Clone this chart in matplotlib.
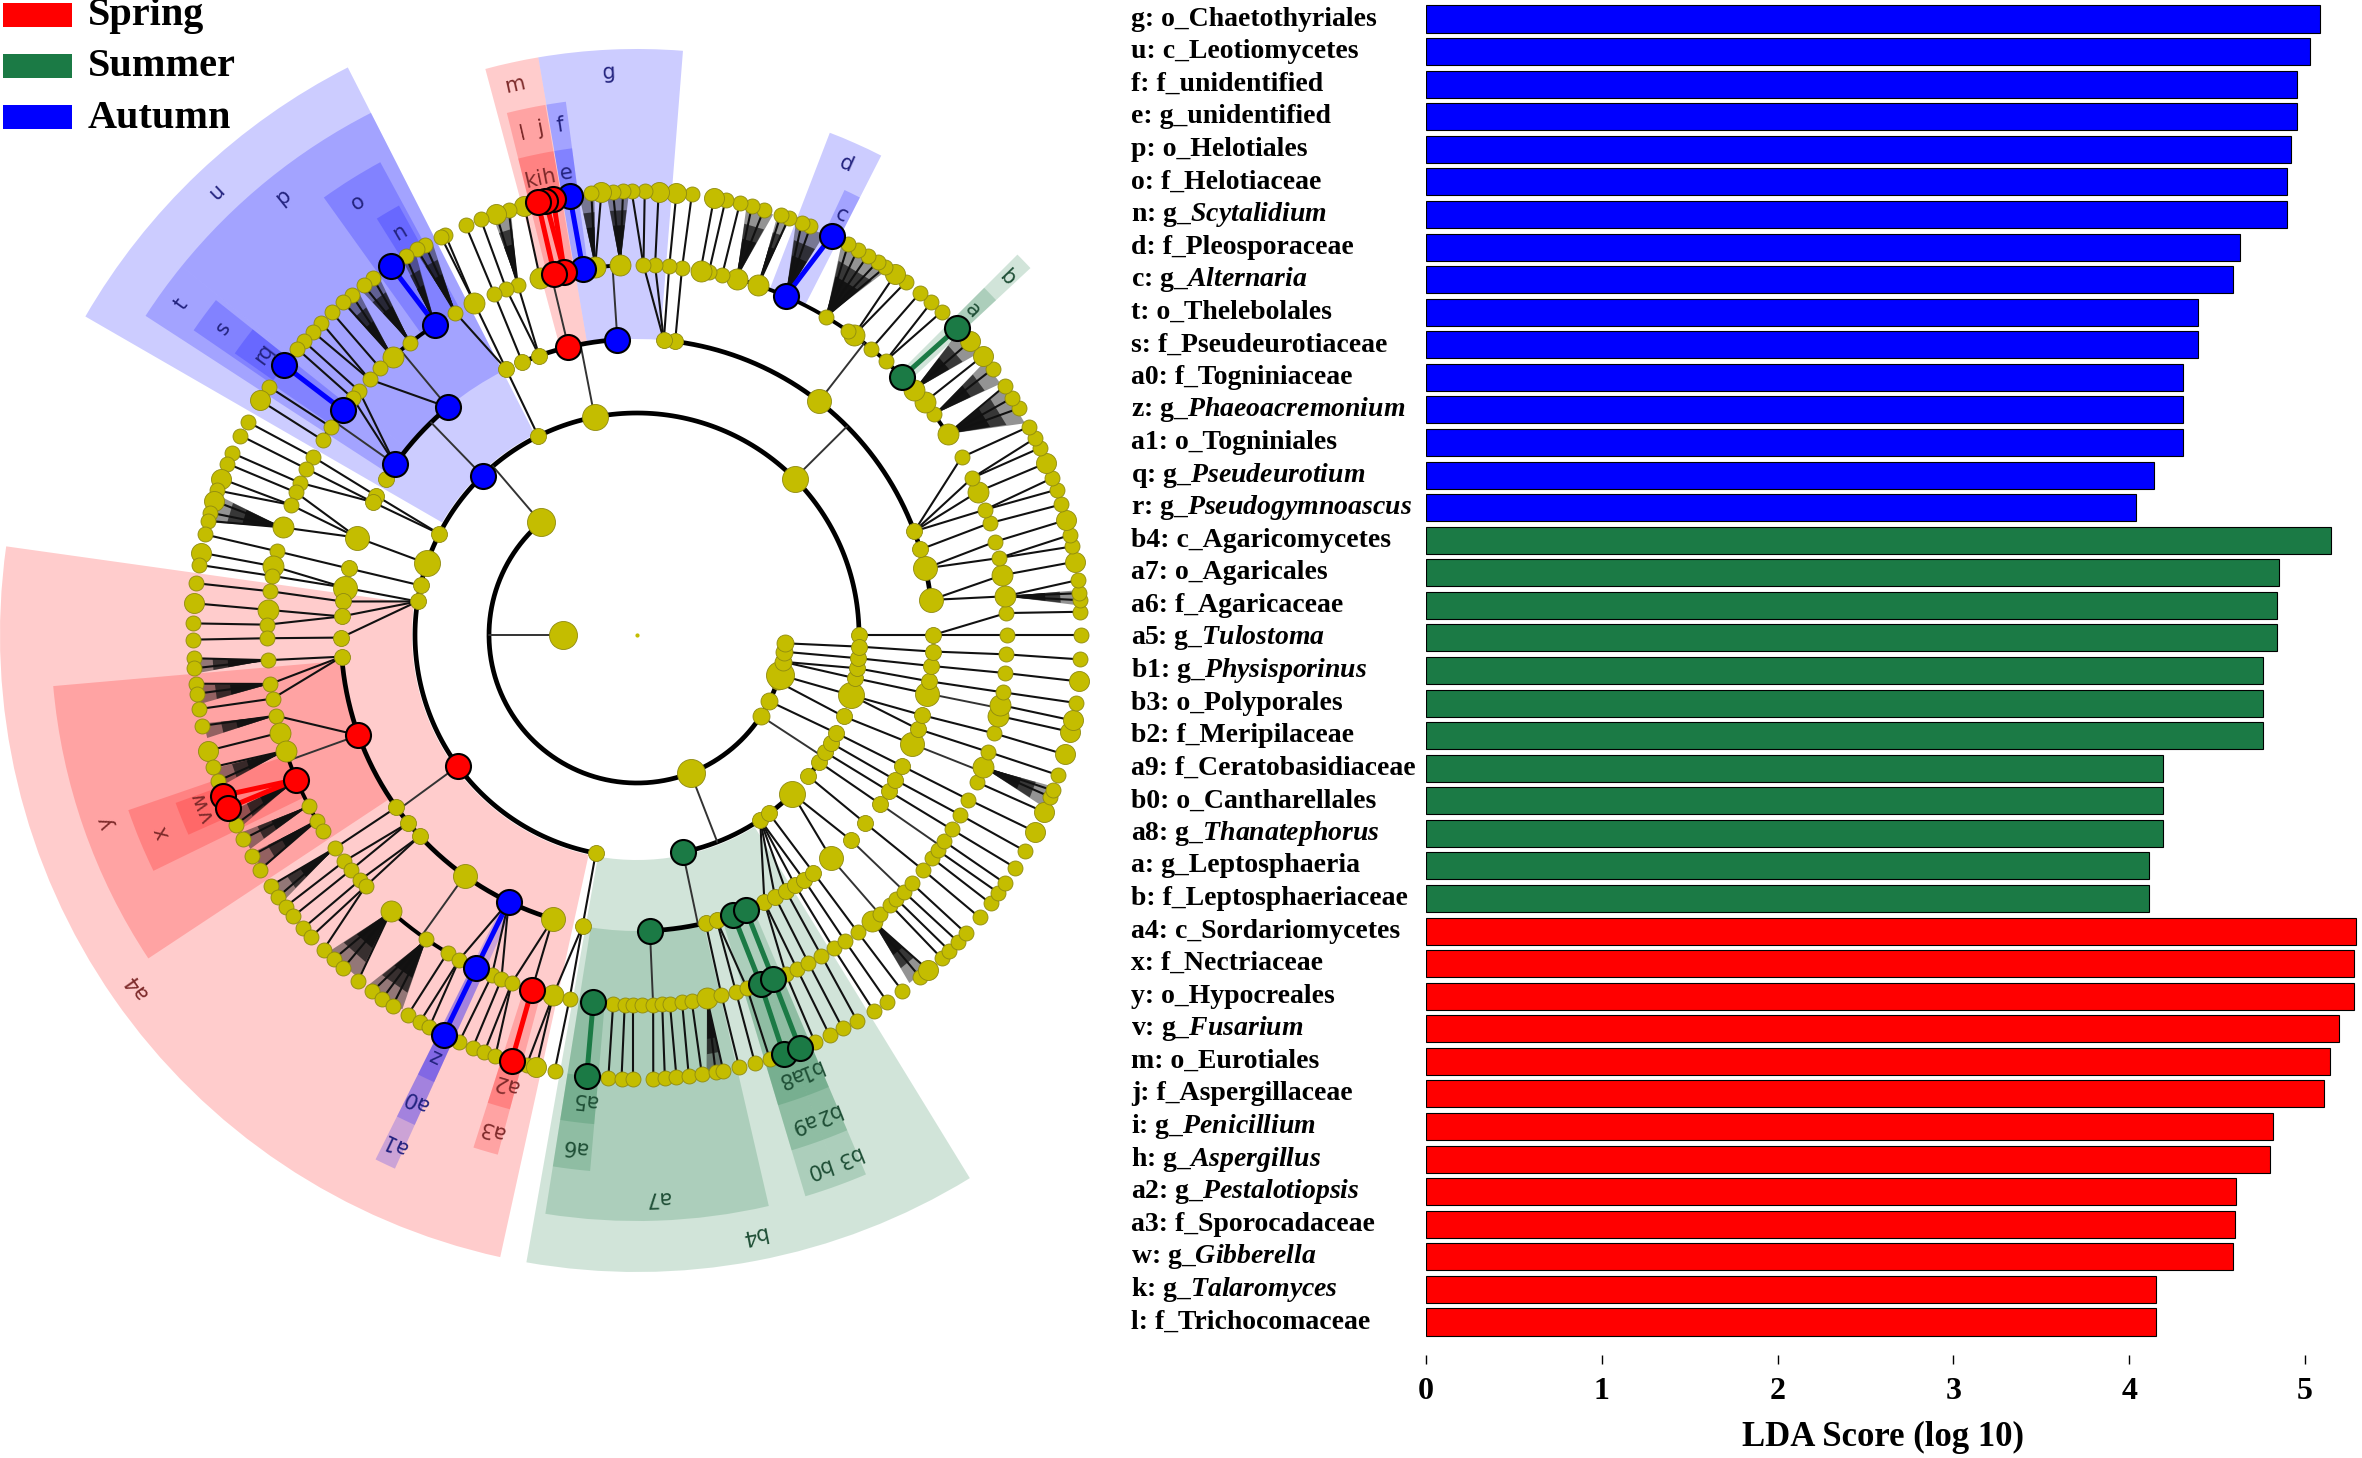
import numpy as np
import matplotlib
matplotlib.use('Agg')
import matplotlib.pyplot as plt
from matplotlib.patches import Wedge, Polygon, Rectangle

plt.rcParams['font.family'] = 'Liberation Serif'
plt.rcParams['font.weight'] = 'bold'
plt.rcParams['mathtext.fontset'] = 'custom'
plt.rcParams['mathtext.rm'] = 'Liberation Serif:bold'
plt.rcParams['mathtext.it'] = 'Liberation Serif:italic:bold'

# LDA bars, top to bottom
bar_labels = ['g: o_Chaetothyriales', 'u: c_Leotiomycetes', 'f: f_unidentified', 'e: g_unidentified',
              'p: o_Helotiales', 'o: f_Helotiaceae', 'n: g_$\\mathit{Scytalidium}$', 'd: f_Pleosporaceae',
              'c: g_$\\mathit{Alternaria}$', 't: o_Thelebolales', 's: f_Pseudeurotiaceae', 'a0: f_Togniniaceae',
              'z: g_$\\mathit{Phaeoacremonium}$', 'a1: o_Togniniales', 'q: g_$\\mathit{Pseudeurotium}$',
              'r: g_$\\mathit{Pseudogymnoascus}$',
              'b4: c_Agaricomycetes', 'a7: o_Agaricales', 'a6: f_Agaricaceae', 'a5: g_$\\mathit{Tulostoma}$',
              'b1: g_$\\mathit{Physisporinus}$', 'b3: o_Polyporales', 'b2: f_Meripilaceae', 'a9: f_Ceratobasidiaceae',
              'b0: o_Cantharellales', 'a8: g_$\\mathit{Thanatephorus}$', 'a: g_Leptosphaeria', 'b: f_Leptosphaeriaceae',
              'a4: c_Sordariomycetes', 'x: f_Nectriaceae', 'y: o_Hypocreales', 'v: g_$\\mathit{Fusarium}$',
              'm: o_Eurotiales', 'j: f_Aspergillaceae', 'i: g_$\\mathit{Penicillium}$', 'h: g_$\\mathit{Aspergillus}$',
              'a2: g_$\\mathit{Pestalotiopsis}$', 'a3: f_Sporocadaceae', 'w: g_$\\mathit{Gibberella}$',
              'k: g_$\\mathit{Talaromyces}$', 'l: f_Trichocomaceae']
bar_values = [5.085, 5.03, 4.956, 4.956, 4.92, 4.895, 4.895, 4.63, 4.59, 4.39, 4.39, 4.305, 4.305, 4.305, 4.14, 4.04,
              5.15, 4.85, 4.84, 4.84, 4.76, 4.76, 4.76, 4.19, 4.19, 4.19, 4.11, 4.11,
              5.29, 5.28, 5.28, 5.195, 5.145, 5.11, 4.82, 4.80, 4.605, 4.60, 4.59, 4.155, 4.155]
bar_groups = ['Autumn'] * 16 + ['Summer'] * 12 + ['Spring'] * 13
season_names = ['Spring', 'Summer', 'Autumn']
season_colors = {'Spring': '#ff0000', 'Summer': '#1b7a45', 'Autumn': '#0000ff'}

# cladogram node angles in degrees, ccw from east, per taxonomic level
l2_angles = [130.5, 291.2, 326.8, 333.4, 341.7, 344.4, 349.6, 353.5, 356.8]
l2_big = [130.5, 291.2, 344.4]
l3_angles = [0, 44.8, 101, 116.4, 134.1, 152.9, 161.2, 167.1, 171.3, 216.2, 259.3, 281.9, 303.7, 306.5, 314.4,
             320.5, 325.1, 328.1, 330.9, 333.8, 338.5, 344.3, 348.8, 351.4, 354, 357]
l3_big = [44.8, 101, 161.2, 314.4, 344.3]
l4_angles = [0, 6.8, 13, 16.8, 20.5, 52.1, 82.6, 84.8, 93.8, 103.4, 109.3, 112.8, 116.2, 129.7, 144.8, 148.1, 151.9,
             153.3, 160.8, 167, 170.8, 173.5, 176.4, 180.5, 184.2, 199.8, 215.6, 219.4, 222.8, 234.4, 244.3, 253.5,
             259.4, 272.5, 283.4, 285.6, 289, 291.6, 295.5, 297.8, 300.2, 302.3, 304.3, 306.6, 311, 316.2, 320.5,
             325.2, 328.2, 330.7, 333.7, 338.4, 341.5, 344.3, 348.6, 351, 354, 356.8]
l4_big = [6.8, 13, 52.1, 160.8, 170.8, 234.4, 253.5, 311, 338.4, 348.6]
l5_angles = [0, 3.4, 6, 9.3, 12, 14.6, 17.6, 19.8, 22.8, 25.1, 28.7, 32.9, 36.6, 39, 41.5, 44.2, 47.8, 50.7, 54.1,
             55.2, 59.3, 66.3, 70.9, 74.4, 76.7, 78.8, 80.1, 83, 85, 87.2, 89, 92.6, 96.5, 98.4, 101.3, 102.9, 105.2,
             108.8, 110.7, 112.7, 116.1, 119.4, 123, 127.8, 131.3, 133.9, 136.3, 138.7, 140.2, 142.6, 145.8, 148.2,
             151.2, 153.3, 155.7, 157.3, 159.4, 163.1, 166.9, 169.3, 170.8, 173.2, 176.1, 178.4, 180.5, 183.9, 187.6,
             189.9, 192.6, 195.3, 198.2, 203, 207.5, 210.1, 212, 215.2, 217.7, 219.4, 221.5, 222.8, 228.3, 235.3,
             239.2, 241.3, 244.2, 246.9, 248.5, 250.2, 253.5, 256.9, 259.5, 263.2, 266.3, 268.1, 269.4, 270.7, 272.5,
             273.9, 275.1, 277, 278.5, 280.9, 283.2, 285.5, 287.3, 289.5, 291.6, 293.7, 295.6, 297.6, 299.9, 302.1,
             304.2, 306.6, 309.5, 311.1, 313.2, 314.5, 316.1, 317.9, 320.6, 322.9, 324.4, 326.1, 328.3, 330.9, 333.6,
             336.6, 339.1, 341.6, 344.6, 347.4, 349.1, 351.1, 354.1, 357]
l5_big = [6, 9.3, 22.8, 32.9, 39, 41.5, 54.1, 70.9, 74.4, 80.1, 92.6, 96.5, 105.2, 116.1, 131.3, 163.1, 169.3, 176.1,
          195.3, 198.2, 228.3, 256.9, 280.9, 309.5, 339.1, 349.1, 347.4]
l6_angles = [0, 3.0, 4.5, 5.4, 7.1, 9.5, 11.5, 13, 15, 17.1, 19.1, 20.7, 22.8, 24.9, 26.3, 28, 30.7, 32.3, 34.1, 36.8,
             38.9, 41.4, 43.8, 46.7, 48.5, 50.4, 52.7, 54.4, 56, 57.2, 58.7, 60.2, 61.6, 64, 67, 68.2, 70, 71.1, 73.4,
             75, 76.6, 78.5, 80, 82.9, 84.9, 87.2, 89, 90.7, 91.8, 93.1, 94.6, 95.9, 98.7, 100.9, 101.9, 102.9, 104.7,
             106.8, 108.5, 110.6, 112.7, 115.6, 116.2, 118.5, 119.7, 121.4, 123.7, 126.5, 128, 130, 131.4, 133.4,
             135.3, 136.9, 138.6, 139.9, 142.6, 146, 148.1, 151.3, 153.3, 155.8, 157.3, 159.4, 161, 162.4, 164, 165.1,
             166.9, 169.3, 170.9, 173.3, 175.9, 178.5, 180.6, 183, 184.3, 186.3, 187.6, 189.6, 191.8, 195.1, 197.3,
             199.2, 201.2, 202.9, 205.3, 207.4, 209.8, 211.9, 214.4, 216.1, 217.7, 219.3, 221.3, 222.8, 225.1, 226.9,
             228.6, 231.1, 233.4, 235, 236.6, 238.9, 240.7, 242.1, 244.2, 246.4, 248.3, 249.9, 251.4, 253.6, 255.6,
             256.9, 259.3, 263.5, 266.3, 268, 269.5, 272.1, 273.6, 275.1, 276.7, 278.4, 280.2, 281.2, 283.3, 285.4,
             287.4, 289.3, 291.5, 293.6, 295.7, 297.6, 299.7, 302.2, 304.3, 306.7, 309.6, 311, 313.3, 314.7, 316.3,
             317.8, 320.5, 322.8, 324.5, 326, 328.4, 330.9, 333.7, 336.5, 338.6, 339.5, 341.6, 344.4, 347.4, 348.9,
             351.2, 354, 356.85]
l6_big = [9.5, 15, 22.8, 38.9, 41.4, 54.4, 80, 84.9, 87.2, 94.6, 104.7, 108.5, 148.1, 159.4, 162.4, 169.3, 175.9,
          195.1, 256.9, 311, 333.7, 336.5, 344.4, 347.4, 348.9, 354]

# brackets: parent angle, first and last child angle on the child level
l2_brackets = [(180, 130.5, 356.8)]
l3_brackets = [(130.5, 0, 259.3), (291.2, 281.9, 314.4), (326.8, 320.5, 330.9)]
l4_brackets = [(101, 93.8, 112.8), (134.1, 129.7, 148.1), (44.8, 6.8, 84.8), (216.2, 184.2, 253.5), (281.9, 272.5, 291.6)]
l5_brackets = [(93.8, 92.6, 98.4), (103.4, 101.3, 105.2), (129.7, 123, 133.9), (144.8, 142.6, 148.2), (52.1, 32.9, 80.1),
               (199.8, 195.3, 212), (234.4, 228.3, 239.2), (272.5, 263.2, 280.9), (316.2, 313.2, 317.9),
               (325.2, 322.9, 326.1), (338.4, 336.6, 339.1), (348.6, 347.4, 349.1), (311, 309.5, 311.1)]
# dense genus fans: family angle, angular range of the fan
dense_fans = [(59.3, 55.5, 62.5), (66.3, 64.9, 69), (70.9, 69.8, 71.5), (74.4, 72, 75.7), (32.9, 28.5, 34),
              (36.6, 34.6, 38.2), (41.5, 39.5, 43.4), (339.1, 337, 340), (309.5, 308, 311), (280.9, 279, 281.2),
              (6, 3.8, 5.8), (92.6, 91, 94), (96.5, 95.5, 97.5), (127.8, 125.7, 128.7), (131.3, 129, 131.6),
              (119.4, 117.5, 120), (123, 120, 122), (108.8, 106.5, 109), (163.1, 161.5, 165.3), (183.9, 183, 185),
              (187.6, 186.4, 189), (192.6, 191.5, 193.5), (198.2, 197.5, 200), (203, 203.5, 206), (207.5, 206.5, 209),
              (210.1, 209.5, 212), (215.2, 214.5, 217), (228.3, 225.7, 231), (235.3, 232.4, 238)]

# biomarkers: (level, angle, season)
biomarkers = [(3, 134.1, 'Autumn'), (3, 216.2, 'Spring'), (3, 281.9, 'Summer'),
              (4, 93.8, 'Autumn'), (4, 103.4, 'Spring'), (4, 129.7, 'Autumn'), (4, 144.8, 'Autumn'), (4, 199.8, 'Spring'),
              (4, 244.3, 'Autumn'), (4, 272.5, 'Summer'), (4, 289, 'Summer'), (4, 291.6, 'Summer'),
              (5, 44.2, 'Summer'), (5, 66.3, 'Autumn'), (5, 98.4, 'Autumn'), (5, 101.3, 'Spring'), (5, 102.9, 'Spring'),
              (5, 123, 'Autumn'), (5, 142.6, 'Autumn'), (5, 203, 'Spring'), (5, 244.2, 'Autumn'), (5, 253.5, 'Spring'),
              (5, 263.2, 'Summer'), (5, 289.5, 'Summer'), (5, 291.6, 'Summer'),
              (6, 43.8, 'Summer'), (6, 64, 'Autumn'), (6, 98.7, 'Autumn'), (6, 100.9, 'Spring'), (6, 101.9, 'Spring'),
              (6, 102.9, 'Spring'), (6, 123.7, 'Autumn'), (6, 142.6, 'Autumn'), (6, 201.2, 'Spring'), (6, 202.9, 'Spring'),
              (6, 244.2, 'Autumn'), (6, 253.6, 'Spring'), (6, 263.5, 'Summer'), (6, 289.3, 'Summer'), (6, 291.5, 'Summer')]

# shaded sectors: (rank, first angle, last angle, season)
sectors = [('class', 117, 150, 'Autumn'), ('order', 117, 141, 'Autumn'), ('order', 141, 147, 'Autumn'),
           ('family', 118.5, 125.6, 'Autumn'), ('genus', 119, 122, 'Autumn'), ('family', 141.5, 145.5, 'Autumn'),
           ('genus', 141.5, 145, 'Autumn'), ('order', 85.5, 99.7, 'Autumn'), ('order', 99.7, 105, 'Spring'),
           ('family', 97.6, 99.7, 'Autumn'), ('genus', 97.6, 99.7, 'Autumn'), ('family', 99.8, 104, 'Spring'),
           ('genus', 99.8, 104, 'Spring'), ('family', 63, 69, 'Autumn'), ('genus', 63, 65, 'Autumn'),
           ('family', 43, 45, 'Summer'), ('genus', 43, 45, 'Summer'),
           ('class', 172, 257.6, 'Spring'), ('order', 185, 213.5, 'Spring'), ('family', 199, 206, 'Spring'),
           ('genus', 200, 204, 'Spring'), ('order', 243.5, 245.6, 'Autumn'), ('family', 243.5, 245.6, 'Autumn'),
           ('genus', 243.5, 245.6, 'Autumn'), ('family', 252.3, 255, 'Spring'), ('genus', 252.3, 255, 'Spring'),
           ('class', 260, 301.5, 'Summer'), ('order', 261, 283, 'Summer'), ('family', 261, 265, 'Summer'),
           ('genus', 261, 265, 'Summer'), ('order', 286.7, 290.3, 'Summer'), ('family', 286.7, 290.3, 'Summer'),
           ('genus', 286.7, 290.3, 'Summer'), ('order', 290.3, 293, 'Summer'), ('family', 290.3, 293, 'Summer'),
           ('genus', 290.3, 293, 'Summer')]

# sector letters: (text, rank, angle, season)
sector_labels = [('u', 'class', 133.5, 'Autumn'), ('p', 'order', 129, 'Autumn'), ('t', 'order', 144, 'Autumn'),
                 ('o', 'family', 122.8, 'Autumn'), ('s', 'family', 143.4, 'Autumn'), ('n', 'genus', 120.5, 'Autumn'),
                 ('q', 'genus', 142.6, 'Autumn'), ('r', 'genus', 143.7, 'Autumn'), ('g', 'order', 92.8, 'Autumn'),
                 ('m', 'order', 102.5, 'Spring'), ('l', 'family', 102.9, 'Spring'), ('j', 'family', 100.8, 'Spring'),
                 ('f', 'family', 98.6, 'Autumn'), ('k', 'genus', 103.2, 'Spring'), ('i', 'genus', 102, 'Spring'),
                 ('h', 'genus', 100.9, 'Spring'), ('e', 'genus', 98.7, 'Autumn'), ('d', 'family', 66, 'Autumn'),
                 ('c', 'genus', 64, 'Autumn'), ('b', 'family', 44, 'Summer'), ('a', 'genus', 44, 'Summer'),
                 ('a4', 'class', 215, 'Spring'), ('y', 'order', 199.4, 'Spring'), ('x', 'family', 202.5, 'Spring'),
                 ('w', 'genus', 200.8, 'Spring'), ('v', 'genus', 202.7, 'Spring'), ('z', 'genus', 244.5, 'Autumn'),
                 ('a0', 'family', 244.5, 'Autumn'), ('a1', 'order', 244.5, 'Autumn'), ('a2', 'genus', 253.6, 'Spring'),
                 ('a3', 'family', 253.6, 'Spring'), ('b4', 'class', 281, 'Summer'), ('a7', 'order', 272, 'Summer'),
                 ('a6', 'family', 263, 'Summer'), ('a5', 'genus', 263.5, 'Summer'), ('b3', 'order', 292, 'Summer'),
                 ('b0', 'order', 288.7, 'Summer'), ('a9', 'family', 288.7, 'Summer'), ('b2', 'family', 291.6, 'Summer'),
                 ('a8', 'genus', 289, 'Summer'), ('b1', 'genus', 291.6, 'Summer')]

W, H = 2362, 1458
CX, CY = 637, 635
PX2PT = 72 / 100
LEVEL_R = {1: 74, 2: 148, 3: 222, 4: 296, 5: 370, 6: 444}
RANK_R = {'class': (225, 637), 'order': (296, 586), 'family': (370, 538), 'genus': (444, 491)}
LABEL_R = {'class': 611, 'order': 563, 'family': 515, 'genus': 467}
TEXT_COLORS = {'Spring': '#7d2a2a', 'Summer': '#1f4f36', 'Autumn': '#23237f'}
YELLOW = '#c4bd00'
YELLOW_EDGE = '#8f8a10'


def polar(level_or_r, angle):
    r = LEVEL_R.get(level_or_r, level_or_r)
    a = np.deg2rad(angle)
    return r * np.cos(a), r * np.sin(a)


def in_range(a, lo, hi):
    return lo - 1e-6 <= a <= hi + 1e-6


def nearest(a, candidates):
    diffs = [abs((a - c + 180) % 360 - 180) for c in candidates]
    return candidates[int(np.argmin(diffs))]


def draw_link(ax, lev_p, ang_p, lev_c, ang_c, color='#111111', lw=1.5, z=2):
    x0, y0 = polar(lev_p, ang_p)
    x1, y1 = polar(lev_c, ang_c)
    ax.plot([x0, x1], [y0, y1], color=color, lw=lw, solid_capstyle='round', zorder=z)


def draw_level_links(ax, lev, child_angles, parent_angles, brackets):
    for parent, lo, hi in brackets:
        t = np.deg2rad(np.linspace(lo, hi, 200))
        r = LEVEL_R[lev]
        ax.plot(r * np.cos(t), r * np.sin(t), color='black', lw=3.4 if lev < 5 else 2.8, zorder=2)
        draw_link(ax, lev - 1, parent, lev, parent, color='#333333', lw=1.4)
    for a in child_angles:
        if any(in_range(a, lo, hi) for _, lo, hi in brackets):
            continue
        draw_link(ax, lev - 1, nearest(a, parent_angles), lev, a)


fig = plt.figure(figsize=(W / 100, H / 100), dpi=100)
fig.patch.set_facecolor('white')

# cladogram, data units are pixels around the centre of the circle
ax = fig.add_axes([0, 0, 1, 1])
ax.set_xlim(-CX, W - CX)
ax.set_ylim(-(H - CY), CY)
ax.set_aspect('equal')
ax.axis('off')

for rank, lo, hi, season in sectors:
    r0, r1 = RANK_R[rank]
    ax.add_patch(Wedge((0, 0), r1, lo, hi, width=r1 - r0, facecolor=season_colors[season], alpha=0.2, lw=0, zorder=1))

marks = {(lev, a): s for lev, a, s in biomarkers}

draw_level_links(ax, 2, l2_angles, [180], l2_brackets)
draw_level_links(ax, 3, l3_angles, l2_angles, l3_brackets)
draw_level_links(ax, 4, l4_angles, l3_angles, l4_brackets)
draw_level_links(ax, 5, l5_angles, l4_angles, l5_brackets)

# dense fans fade towards the genus ring
for parent, lo, hi in dense_fans:
    apex = polar(5, parent)
    for r, alpha in [(442, 0.45), (425, 0.7), (410, 0.95)]:
        f = (r - 370) / 74
        base = [polar(r, parent + (lo - parent) * f), polar(r, parent + (hi - parent) * f)]
        ax.add_patch(Polygon([apex] + base, closed=True, facecolor='#111111', edgecolor='none', alpha=alpha, zorder=2))

for a in l6_angles:
    season = marks.get((6, a))
    parent = nearest(a, l5_angles)
    if season is None:
        for p, lo, hi in dense_fans:
            if in_range(a, lo, hi):
                parent = p
                break
    if season is not None and marks.get((5, parent)) == season:
        draw_link(ax, 5, parent, 6, a, color=season_colors[season], lw=3.6, z=2.5)
    else:
        draw_link(ax, 5, parent, 6, a)

# coloured order to family links
for lev_p, a_p, a_c, season in [(4, 244.3, 244.2, 'Autumn'), (4, 289, 289.5, 'Summer'), (4, 291.6, 291.6, 'Summer')]:
    draw_link(ax, lev_p, a_p, lev_p + 1, a_c, color=season_colors[season], lw=3.6, z=2.5)


def draw_nodes(lev, angles, big, d_small, d_big):
    for a in angles:
        season = marks.get((lev, a))
        x, y = polar(lev, a)
        if season is None:
            d = d_big if a in big else d_small
            ax.scatter(x, y, s=(d * PX2PT) ** 2, color=YELLOW, edgecolors=YELLOW_EDGE, linewidths=0.6, zorder=3)
        else:
            ax.scatter(x, y, s=(25 * PX2PT) ** 2, color=season_colors[season], edgecolors='black', linewidths=1.5, zorder=4)


draw_nodes(1, [180], [180], 28, 28)
draw_nodes(2, l2_angles, l2_big, 17, 28)
draw_nodes(3, l3_angles, l3_big, 16, 26)
draw_nodes(4, l4_angles, l4_big, 16, 24)
draw_nodes(5, l5_angles, l5_big, 15, 21)
draw_nodes(6, l6_angles, l6_big, 15, 20)
ax.scatter(0, 0, s=4, color='#c4bd00', zorder=3)

for text, rank, a, season in sector_labels:
    x, y = polar(LABEL_R[rank], a)
    ax.text(x, y, text, rotation=a - 90, rotation_mode='anchor', ha='center', va='center', fontsize=15,
            family='DejaVu Sans', weight='normal', color=TEXT_COLORS[season], zorder=5)

# legend, placed in pixels
leg_y = [15, 66, 117]
for name, y in zip(season_names, leg_y):
    ax.add_patch(Rectangle((3 - CX, CY - y - 12), 69, 24, facecolor=season_colors[name], edgecolor='none', zorder=5))
    ax.text(88 - CX, CY - y - 1, name, fontsize=29, va='center', ha='left', color='black', zorder=5)

# bars
bar_ax = fig.add_axes([1426 / W, 1 - 1355 / H, (W - 1426) / W, 1355 / H])
bar_ax.patch.set_alpha(0)
ypos = np.arange(len(bar_values))
bar_ax.barh(ypos, bar_values, height=0.83, color=[season_colors[g] for g in bar_groups], edgecolor='black', linewidth=0.8)
bar_ax.set_xlim(0, (W - 1426) / 175.8)
bar_ax.set_ylim((1355 - 19) / 32.575, -19 / 32.575)
bar_ax.set_yticks([])
bar_ax.set_xticks(range(6))
bar_ax.tick_params(axis='x', length=6.5, width=1, pad=9, labelsize=23)
for s in bar_ax.spines.values():
    s.set_visible(False)
for i, label in enumerate(bar_labels):
    bar_ax.text(-1.678, i, label, ha='left', va='center', fontsize=20, color='black', clip_on=False)
bar_ax.set_xlabel('LDA Score (log 10)', fontsize=25, fontweight='bold')
bar_ax.xaxis.set_label_coords((1883 - 1426) / (W - 1426), -(1421 - 1355) / 1355)

fig.savefig('out.png', dpi=100)
